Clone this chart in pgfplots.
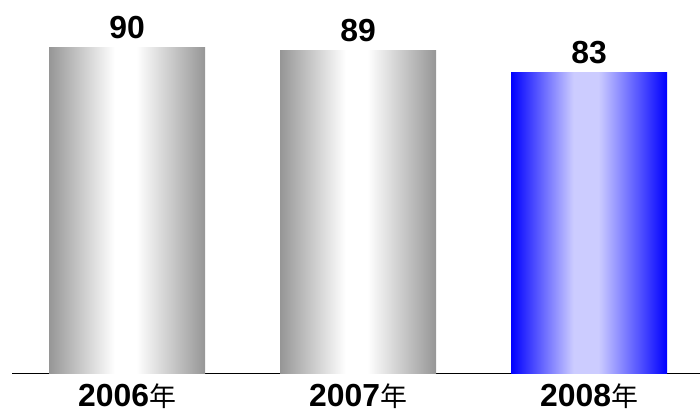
\documentclass[border=0pt]{standalone}
\usepackage{fontspec}
\setmainfont{Liberation Sans}
\newfontfamily\cjk{Noto Sans CJK SC}
\usepackage{pgfplots}
\pgfplotsset{compat=1.18}

\definecolor{bargray}{RGB}{150,150,150}
\definecolor{barblue}{RGB}{0,0,255}
\definecolor{barpale}{RGB}{204,204,255}
% TikZ fits the middle 25bp..75bp of a shading to the bar
\pgfdeclarehorizontalshading{graybar}{100bp}{color(0bp)=(bargray); color(25bp)=(bargray); color(46bp)=(white); color(53bp)=(white); color(75bp)=(bargray); color(100bp)=(bargray)}
\pgfdeclarehorizontalshading{bluebar}{100bp}{color(0bp)=(barblue); color(25bp)=(barblue); color(45bp)=(barpale); color(53bp)=(barpale); color(75bp)=(barblue); color(100bp)=(barblue)}

\begin{document}
\begin{tikzpicture}
\begin{axis}[
  scale only axis,
  width=688bp, height=373bp,
  xmin=-0.498, xmax=2.48,
  ymin=0, ymax=103,
  axis x line=bottom,
  axis y line=none,
  axis line style={-, line width=1bp, black},
  xtick={0,1,2},
  xticklabels={{\textbf{2006}{\cjk\fontsize{27}{30}\selectfont 年}},{\textbf{2007}{\cjk\fontsize{27}{30}\selectfont 年}},{\textbf{2008}{\cjk\fontsize{27}{30}\selectfont 年}}},
  major tick length=0pt,
  x tick label style={font=\fontsize{32}{34}\selectfont, yshift=-7bp},
  ybar, bar width=156bp, bar shift=0pt,
  /pgf/number format/assume math mode=true,
  nodes near coords,
  every node near coord/.append style={font=\fontsize{32}{34}\selectfont\bfseries, yshift=5bp},
  clip=false,
]
\addplot[draw=none, shading=graybar] coordinates {(0,90)};
\addplot[draw=none, shading=graybar] coordinates {(1,89)};
\addplot[draw=none, shading=bluebar] coordinates {(2,83)};
\end{axis}
\pgfresetboundingbox
\path ([xshift=-12bp,yshift=-41bp]current axis.south west) rectangle (current axis.north east);
\end{tikzpicture}
\end{document}
